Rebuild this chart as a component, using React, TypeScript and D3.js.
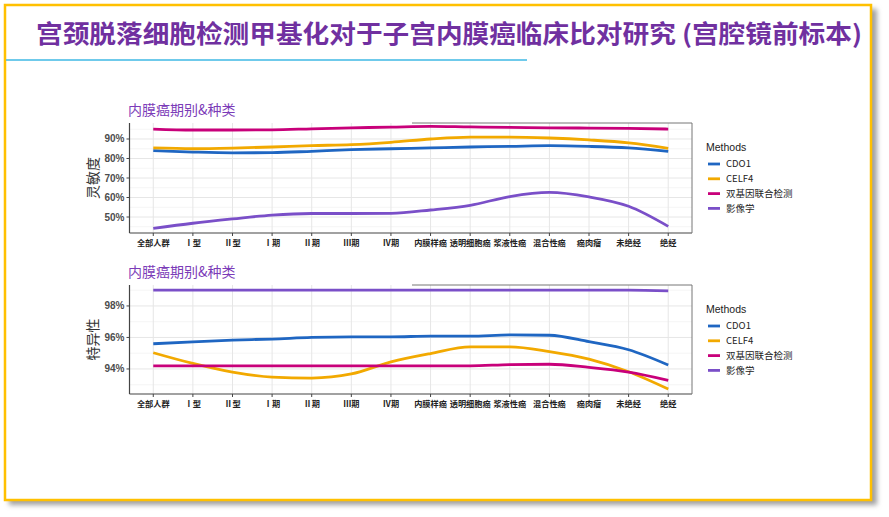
import * as d3 from 'd3';

const CATEGORIES = [
  '全部人群', 'Ⅰ型', 'Ⅱ型', 'Ⅰ期', 'Ⅱ期', 'Ⅲ期', 'Ⅳ期',
  '内膜样癌', '透明细胞癌', '浆液性癌', '混合性癌', '癌肉瘤', '未绝经', '绝经',
];
const METHODS = ['CDO1', 'CELF4', '双基因联合检测', '影像学'];
const COLORS = ['#1f66c2', '#f2a900', '#c8007a', '#7a4fc8'];

// sensitivity (%)
const SENS_CDO1 = [84, 83.3, 82.9, 83, 83.7, 84.5, 85, 85.4, 85.9, 86.2, 86.6, 86.2, 85.4, 83.7];
const SENS_CELF4 = [85.4, 85, 85.3, 85.9, 86.6, 87.1, 88.3, 90, 91, 91, 90.5, 89.5, 88, 85.2];
const SENS_DUAL = [95.1, 94.6, 94.6, 94.7, 95.2, 95.7, 96.1, 96.5, 96.2, 96, 95.7, 95.6, 95.4, 95.1];
const SENS_IMAGE = [44.2, 46.8, 49, 51, 51.8, 51.8, 51.9, 53.6, 56, 60.5, 62.6, 60.3, 55.5, 45.2];

// specificity (%)
const SPEC_CDO1 = [95.6, 95.72, 95.83, 95.9, 96, 96.04, 96.04, 96.08, 96.08, 96.16, 96.14, 95.73, 95.22, 94.25];
const SPEC_CELF4 = [95.03, 94.35, 93.8, 93.48, 93.42, 93.68, 94.45, 94.98, 95.4, 95.4, 95.1, 94.62, 93.82, 92.72];
const SPEC_DUAL = [94.2, 94.2, 94.2, 94.2, 94.2, 94.2, 94.2, 94.2, 94.2, 94.28, 94.3, 94.1, 93.8, 93.28];
const SPEC_IMAGE = [99, 99, 99, 99, 99, 99, 99, 99, 99, 99, 99, 99, 99, 98.96];

const SENS_TICKS = [50, 60, 70, 80, 90];
const SPEC_TICKS = [94, 96, 98];

const PANEL_LEFT = 129.5;
const PANEL_RIGHT = 692;
const CJK = '"Noto Sans CJK SC", "Noto Sans", sans-serif';
const LATIN = "Arial, 'Liberation Sans', sans-serif";

type PanelProps = {
  top: number;
  bottom: number;
  domain: [number, number];
  ticks: number[];
  minor: number[];
  yTitle: string;
  series: number[][];
};

const Panel = ({ top, bottom, domain, ticks, minor, yTitle, series }: PanelProps) => {
  const x = d3.scalePoint<string>().domain(CATEGORIES).range([PANEL_LEFT, PANEL_RIGHT]).padding(0.6);
  const y = d3.scaleLinear().domain(domain).range([bottom, top]);
  const line = d3
    .line<number>()
    .x((_, i) => x(CATEGORIES[i]) as number)
    .y((d) => y(d))
    .curve(d3.curveMonotoneX);

  return (
    <g>
      {/* panel title */}
      <text x={128} y={top - 8} fontFamily={CJK} fontSize={14} fill="#7b3bb8">
        内膜癌期别&amp;种类
      </text>

      {/* grid */}
      {minor.map((v) => (
        <line key={'m' + v} x1={PANEL_LEFT} x2={PANEL_RIGHT} y1={y(v)} y2={y(v)} stroke="#f3f3f3" strokeWidth={0.8} />
      ))}
      {ticks.map((v) => (
        <line key={'t' + v} x1={PANEL_LEFT} x2={PANEL_RIGHT} y1={y(v)} y2={y(v)} stroke="#e6e6e6" strokeWidth={1} />
      ))}
      {CATEGORIES.map((c) => (
        <line key={'v' + c} x1={x(c)} x2={x(c)} y1={top} y2={bottom} stroke="#e6e6e6" strokeWidth={1} />
      ))}

      {/* border */}
      <line x1={PANEL_LEFT} x2={PANEL_LEFT} y1={top} y2={bottom} stroke="#444" strokeWidth={1.2} />
      <line x1={PANEL_LEFT} x2={PANEL_RIGHT} y1={bottom} y2={bottom} stroke="#444" strokeWidth={1.2} />
      <line x1={PANEL_RIGHT} x2={PANEL_RIGHT} y1={top} y2={bottom} stroke="#777" strokeWidth={1} />
      <line x1={412} x2={PANEL_RIGHT} y1={top} y2={top} stroke="#777" strokeWidth={1} />

      {/* series */}
      {series.map((d, i) => (
        <path key={i} d={line(d) || ''} fill="none" stroke={COLORS[i]} strokeWidth={2.8} />
      ))}

      {/* y axis */}
      {ticks.map((v) => (
        <g key={'yl' + v}>
          <line x1={PANEL_LEFT - 3} x2={PANEL_LEFT} y1={y(v)} y2={y(v)} stroke="#444" />
          <text
            x={PANEL_LEFT - 5}
            y={y(v)}
            dy="0.35em"
            textAnchor="end"
            fontFamily={LATIN}
            fontWeight="bold"
            fontSize={10}
            fill="#4d4d4d"
          >
            {v}%
          </text>
        </g>
      ))}
      <text
        transform={`translate(93,${(top + bottom) / 2}) rotate(-90)`}
        textAnchor="middle"
        dy="0.35em"
        fontFamily={CJK}
        fontSize={14}
        fill="#333"
      >
        {yTitle}
      </text>

      {/* x axis */}
      {CATEGORIES.map((c) => (
        <g key={'xl' + c}>
          <line x1={x(c)} x2={x(c)} y1={bottom} y2={bottom + 3} stroke="#444" />
          <text
            x={x(c)}
            y={bottom + 12.5}
            textAnchor="middle"
            fontFamily={CJK}
            fontWeight="bold"
            fontSize={8.2}
            fill="#222"
          >
            {c}
          </text>
        </g>
      ))}

      {/* legend */}
      <text x={706} y={top + 28} fontFamily={LATIN} fontSize={10.5} fill="#222">
        Methods
      </text>
      {METHODS.map((m, i) => (
        <g key={m} transform={`translate(0,${top + 41 + i * 14.8})`}>
          <line x1={708} x2={720} y1={0} y2={0} stroke={COLORS[i]} strokeWidth={2.8} />
          <text x={726} y={0} dy="0.35em" fontFamily={CJK} fontSize={9.5} fill="#222">
            {m}
          </text>
        </g>
      ))}
    </g>
  );
};

export default function App() {
  return (
    <svg
      width={889}
      height={517}
      style={{ position: 'absolute', left: 0, top: 0, background: '#fff' }}
    >
      <defs>
        <filter id="shadow" x="-5%" y="-5%" width="115%" height="115%">
          <feGaussianBlur stdDeviation={2.5} />
        </filter>
      </defs>
      {/* slide frame */}
      <rect x={9} y={9} width={868} height={496} fill="#a0a0a0" filter="url(#shadow)" />
      <rect x={5} y={5} width={866} height={495} fill="#fff" stroke="#ffc000" strokeWidth={2.5} />

      <text
        x={36}
        y={43}
        fontFamily={CJK}
        fontWeight="bold"
        fontSize={24.5}
        fill="#7030a0"
        textLength={826}
        lengthAdjust="spacingAndGlyphs"
      >
        宫颈脱落细胞检测甲基化对于子宫内膜癌临床比对研究 (宫腔镜前标本)
      </text>
      <line x1={6} x2={527} y1={60} y2={60} stroke="#3fb8e4" strokeWidth={1.5} />

      <Panel
        top={123}
        bottom={233}
        domain={[41.8, 98.2]}
        ticks={SENS_TICKS}
        minor={[45, 55, 65, 75, 85, 95]}
        yTitle="灵敏度"
        series={[SENS_CDO1, SENS_CELF4, SENS_DUAL, SENS_IMAGE]}
      />
      <Panel
        top={285}
        bottom={394}
        domain={[92.41, 99.33]}
        ticks={SPEC_TICKS}
        minor={[93, 95, 97, 99]}
        yTitle="特异性"
        series={[SPEC_CDO1, SPEC_CELF4, SPEC_DUAL, SPEC_IMAGE]}
      />
    </svg>
  );
}
